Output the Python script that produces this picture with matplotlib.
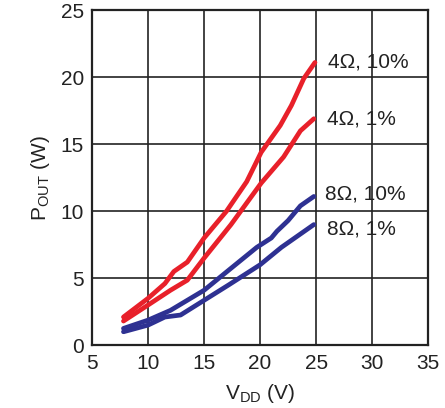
import matplotlib
matplotlib.use("Agg")
import matplotlib.pyplot as plt

plt.rcParams['font.family'] = ['Liberation Sans', 'DejaVu Sans']

# supply voltage (V) and output power (W)
v_4ohm_10 = [7.8, 10, 11.5, 12.3, 13.5, 15, 17.0, 18.8, 20.1, 21.8, 22.8, 23.9, 24.9]
p_4ohm_10 = [2.1, 3.5, 4.6, 5.5, 6.2, 8.0, 10.0, 12.2, 14.4, 16.4, 17.9, 19.9, 21.1]

v_4ohm_1 = [7.8, 10, 12, 13.5, 15, 17.4, 20.1, 22.1, 23.6, 24.8]
p_4ohm_1 = [1.8, 3.0, 4.1, 4.85, 6.5, 9.0, 12.1, 14.05, 16.0, 16.9]

v_8ohm_10 = [7.8, 10, 12, 15, 17.2, 19.7, 21.0, 21.5, 22.5, 23.6, 24.8]
p_8ohm_10 = [1.25, 1.87, 2.6, 4.1, 5.6, 7.3, 8.0, 8.5, 9.3, 10.4, 11.1]

v_8ohm_1 = [7.8, 10, 11.5, 12.9, 15, 17.2, 20, 21.9, 24.8]
p_8ohm_1 = [1.0, 1.5, 2.1, 2.25, 3.35, 4.5, 6.0, 7.3, 9.0]

labels = ["4\u03a9, 10%", "4\u03a9, 1%", "8\u03a9, 10%", "8\u03a9, 1%"]

RED = "#e8202a"
BLUE = "#2e3192"
INK = "#222222"

fig = plt.figure(figsize=(4.45, 4.08), dpi=100)
ax = fig.add_axes([0.207, 0.154, 0.755, 0.821])

kw = dict(lw=3.4, solid_capstyle='round', solid_joinstyle='round')
ax.plot(v_4ohm_10, p_4ohm_10, color=RED, **kw)
ax.plot(v_4ohm_1, p_4ohm_1, color=RED, **kw)
ax.plot(v_8ohm_10, p_8ohm_10, color=BLUE, **kw)
ax.plot(v_8ohm_1, p_8ohm_1, color=BLUE, **kw)

label_pos = [(26.1, 21.1), (26.0, 16.9), (25.8, 11.3), (26.0, 8.7)]
for (x, y), t in zip(label_pos, labels):
    ax.text(x, y, t, fontsize=15, va='center', ha='left', color=INK)

ax.set_xlim(5, 35)
ax.set_ylim(0, 25)
ax.set_xticks(range(5, 36, 5))
ax.set_yticks(range(0, 26, 5))
ax.grid(True, color=INK, lw=1.2)
ax.set_axisbelow(True)
ax.tick_params(length=0, labelsize=15, pad=6, labelcolor=INK)
for s in ax.spines.values():
    s.set_linewidth(1.6)
    s.set_color(INK)

ax.set_xlabel(r"V$_{\mathregular{DD}}$ (V)", fontsize=15, color=INK, labelpad=7)
ax.set_ylabel(r"P$_{\mathregular{OUT}}$ (W)", fontsize=15, color=INK, labelpad=6)

fig.savefig("out.png", dpi=100)
